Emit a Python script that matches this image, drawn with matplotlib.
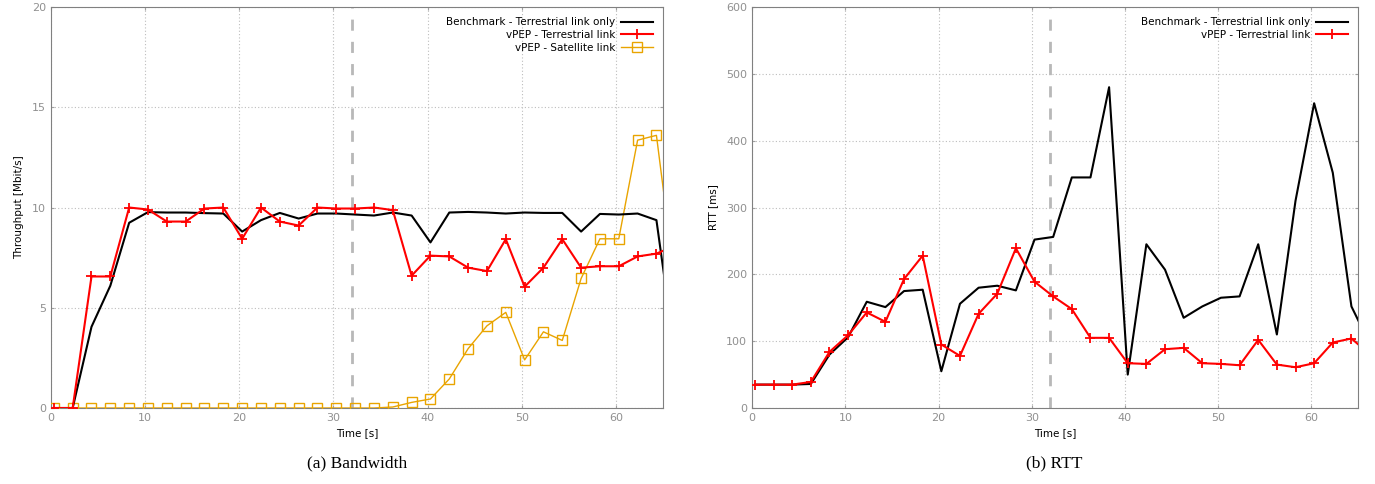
import matplotlib.pyplot as plt

# sample times (s)
t = [0.3 + 2 * i for i in range(34)]

# throughput [Mbit/s]
bw_bench = [0, 0, 4.05, 6.1, 9.24, 9.77, 9.75, 9.75, 9.72, 9.7, 8.8, 9.37, 9.73, 9.45,
            9.7, 9.7, 9.65, 9.6, 9.75, 9.6, 8.26, 9.75, 9.78, 9.75, 9.7, 9.75, 9.73,
            9.73, 8.8, 9.68, 9.65, 9.7, 9.37, 2.6]
bw_vpep_terr = [0, 0, 6.56, 6.56, 10.0, 9.9, 9.3, 9.3, 9.95, 10.0, 8.44, 10.0, 9.3, 9.1,
                10.0, 9.95, 9.95, 10.0, 9.87, 6.6, 7.6, 7.56, 7.0, 6.83, 8.42, 6.05, 7.0,
                8.42, 7.0, 7.07, 7.07, 7.56, 7.7, 8.1]
bw_vpep_sat = [0, 0, 0, 0, 0, 0, 0, 0, 0, 0, 0, 0, 0, 0, 0, 0, 0, 0, 0.05, 0.28, 0.45,
               1.45, 2.96, 4.1, 4.77, 2.4, 3.8, 3.37, 6.46, 8.44, 8.44, 13.36, 13.6, 6.2]

# round trip time [ms]
rtt_bench = [35, 35, 35, 36, 80, 106, 159, 151, 175, 177, 55, 156, 180, 183, 176, 252,
             256, 345, 345, 480, 50, 245, 207, 135, 152, 165, 167, 245, 110, 310, 456,
             352, 152, 95]
rtt_vpep_terr = [35, 35, 35, 39, 84, 109, 143, 129, 193, 228, 95, 78, 141, 171, 239, 189,
                 167, 148, 105, 105, 67, 66, 88, 90, 67, 66, 64, 102, 65, 61, 67, 98, 104, 80]

handover = 32

black = "black"
red = "#ff0000"
orange = "#e9a400"

plt.rcParams["font.family"] = "DejaVu Sans"
plt.rcParams["font.size"] = 7.5

fig = plt.figure(figsize=(13.75, 4.84), dpi=100)
ax1 = fig.add_axes([0.0371, 0.157, 0.4451, 0.8285])
ax2 = fig.add_axes([0.547, 0.157, 0.4406, 0.8285])


def style(ax, ymax, ystep, ylabel):
    ax.set_xlim(0, 65)
    ax.set_ylim(0, ymax)
    ax.set_xticks(range(0, 61, 10))
    ax.set_yticks(range(0, ymax + 1, ystep))
    ax.grid(True, color="#bdbdbd", linestyle=(0, (1, 2)), linewidth=0.8)
    for s in ax.spines.values():
        s.set_color("#808080")
    ax.tick_params(direction="in", length=2, colors="#a0a0a0", labelcolor="#909090",
                   labelsize=8, top=True, right=True)
    ax.set_xlabel("Time [s]", fontsize=7.5, labelpad=4)
    ax.set_ylabel(ylabel, fontsize=7.5, labelpad=6)
    ax.axvline(handover, color="#b8b8b8", linestyle=(0, (4, 4)), linewidth=2, zorder=1)


ax1.plot(t, bw_bench, color=black, lw=1.5, label="Benchmark - Terrestrial link only",
         zorder=4)
ax1.plot(t, bw_vpep_terr, color=red, lw=1.5, marker="+", ms=7.5, mew=1.3,
         label="vPEP - Terrestrial link", zorder=5)
ax1.plot(t, bw_vpep_sat, color=orange, lw=1.0, marker="s", ms=7.5, mfc="none", mew=1.0,
         label="vPEP - Satellite link", zorder=3)
style(ax1, 20, 5, "Throughput [Mbit/s]")

ax2.plot(t, rtt_bench, color=black, lw=1.5, label="Benchmark - Terrestrial link only",
         zorder=4)
ax2.plot(t, rtt_vpep_terr, color=red, lw=1.5, marker="+", ms=7.5, mew=1.3,
         label="vPEP - Terrestrial link", zorder=5)
style(ax2, 600, 100, "RTT [ms]")

for ax in (ax1, ax2):
    ax.legend(loc="upper right", markerfirst=False, frameon=False, fontsize=7.5,
              handlelength=3.0, handletextpad=0.6, labelspacing=0.25,
              borderaxespad=0.6)

fig.text(0.2596, 0.035, "(a) Bandwidth", ha="center", family="Liberation Serif", fontsize=12.5)
fig.text(0.767, 0.035, "(b) RTT", ha="center", family="Liberation Serif", fontsize=12.5)

fig.savefig("out.png", dpi=100)
